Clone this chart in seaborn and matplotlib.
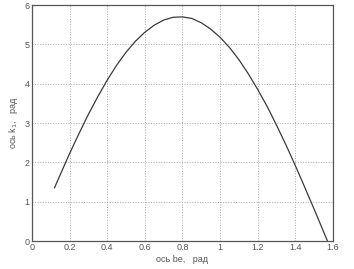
import numpy as np
import pandas as pd
import matplotlib
matplotlib.use('Agg')
from matplotlib import pyplot as plt
import seaborn as sns

# значения
be = [0.12, 0.15, 0.2, 0.25, 0.3, 0.35, 0.4, 0.45, 0.5, 0.55, 0.6, 0.65,
      0.7, 0.75, 0.8, 0.85, 0.9, 0.95, 1.0, 1.05, 1.1, 1.15, 1.2, 1.25,
      1.3, 1.35, 1.4, 1.45, 1.5, 1.55, 1.57]
k1 = [1.35, 1.68, 2.22, 2.73, 3.22, 3.67, 4.09, 4.47, 4.80, 5.08, 5.31, 5.49,
      5.62, 5.69, 5.70, 5.66, 5.55, 5.39, 5.18, 4.92, 4.61, 4.25, 3.85, 3.42,
      2.94, 2.44, 1.91, 1.36, 0.80, 0.23, 0.0]

df = pd.DataFrame({'be': be, 'k1': k1})

sns.set_style('white')
plt.rcParams['font.family'] = ['Liberation Sans', 'DejaVu Sans']

fig = plt.figure(figsize=(3.54, 2.69), dpi=100)
ax = fig.add_axes([0.090, 0.104, 0.851, 0.877])
sns.lineplot(data=df, x='be', y='k1', ax=ax, color='#3a3a3a', linewidth=0.9)

ax.set_xlim(0, 1.6)
ax.set_ylim(0, 6)
ax.set_xticks(np.arange(0, 1.61, 0.2))
ax.set_xticklabels(['0', '0.2', '0.4', '0.6', '0.8', '1', '1.2', '1.4', '1.6'])
ax.set_yticks(range(0, 7))
ax.grid(True, linestyle=':', color='#a8a8a8', linewidth=0.7)
ax.tick_params(direction='in', length=2, labelsize=6.5, colors='#555555', pad=1.5)
for s in ax.spines.values():
    s.set_color('#555555')
    s.set_linewidth(0.9)

ax.set_xlabel('ось be,   рад', fontsize=6.5, color='#555555', labelpad=2)
ax.set_ylabel('ось k$_1$,   рад', fontsize=6.5, color='#555555', labelpad=3)

fig.savefig('out.png', dpi=100)
